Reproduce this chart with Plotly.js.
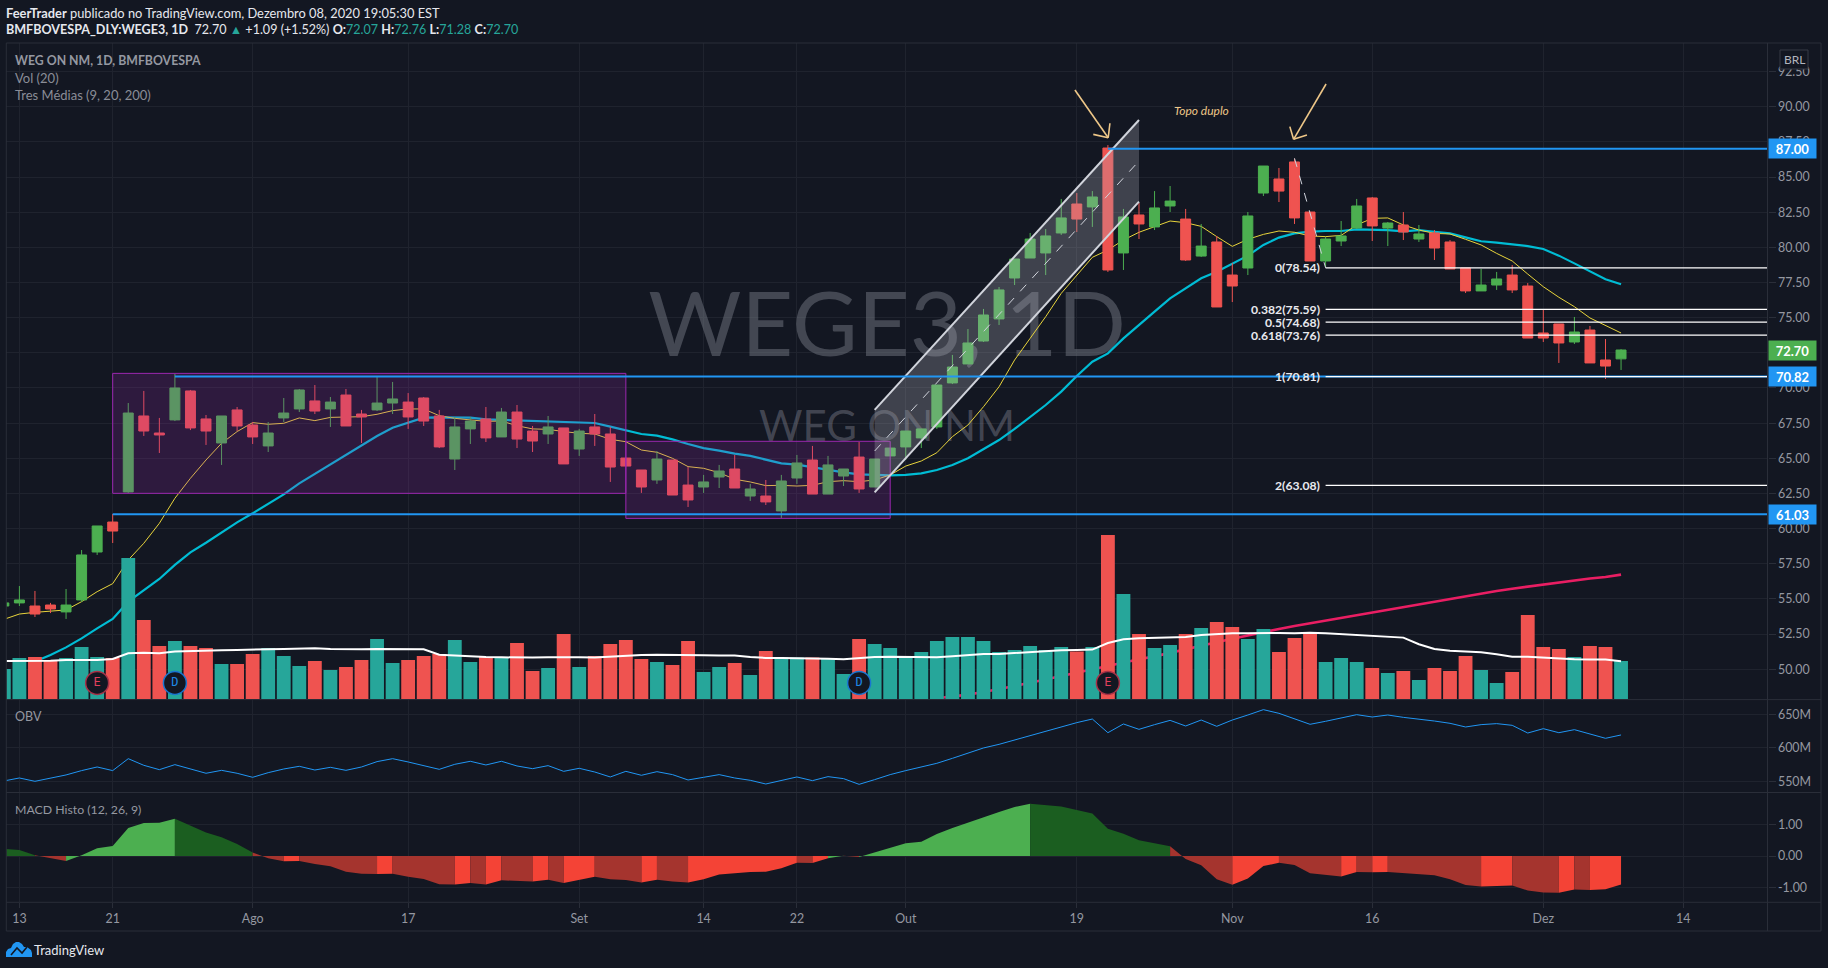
<!DOCTYPE html>
<html lang="pt">
<head>
<meta charset="utf-8">
<title>WEGE3 1D</title>
<script src="https://cdn.plot.ly/plotly-3.0.1.min.js"></script>
<style>html,body{margin:0;padding:0;background:#131722;overflow:hidden}#chart{width:1828px;height:968px}</style>
</head>
<body>
<div id="chart"></div>
<script>
const opens = [54.5,
54.72,54.5,54.57,54.08,54.93,58.34,60.47,62.61,68.01,66.8,
67.73,69.79,67.8,66.09,68.44,67.37,65.88,67.87,68.51,69.08,
68.51,69.5,68.15,68.44,68.93,69.0,69.29,68.01,64.95,67.09,
67.8,66.52,68.29,66.94,66.73,67.16,65.66,67.23,66.73,65.02,
64.17,63.46,64.88,63.1,62.96,63.67,64.24,62.32,62.32,61.26,
63.6,64.88,62.46,63.74,65.09,62.96,65.17,65.81,66.45,67.23,
70.36,71.71,73.34,74.91,77.82,79.24,79.6,81.02,83.08,82.87,
87.06,79.6,82.3,81.45,82.94,82.01,79.38,80.38,78.03,78.53,
83.86,84.86,86.07,82.51,79.03,80.45,81.37,83.51,81.37,81.59,
80.59,81.02,80.38,78.53,76.9,77.32,78.03,77.25,73.91,74.55,
73.27,74.12,71.99,72.07];
const highs = [54.72,
55.92,55.57,54.72,55.71,58.48,60.19,61.04,68.93,69.79,67.87,
71.0,69.86,68.08,68.01,68.65,67.58,67.58,69.29,69.93,70.21,
69.36,69.93,68.44,70.78,70.43,69.64,69.36,68.44,67.94,67.94,
68.65,68.58,68.79,67.3,68.01,67.16,67.09,68.15,67.23,65.02,
64.17,65.52,64.88,64.38,63.82,64.53,65.24,63.18,63.46,63.82,
65.24,65.88,65.17,64.24,66.16,64.95,65.73,66.94,67.09,70.21,
72.35,74.19,75.62,77.18,79.17,81.02,81.3,83.44,83.86,84.0,
87.27,82.73,83.15,84.0,84.36,82.73,81.66,80.81,78.89,82.51,
85.78,85.64,86.3,82.51,80.73,81.87,83.44,83.58,81.8,82.51,
81.59,81.23,80.52,78.53,78.46,78.25,78.74,77.46,75.55,74.55,
75.05,74.41,73.48,72.76];
const lows = [54.5,
54.5,53.72,54.0,53.58,54.79,58.13,58.98,62.54,66.59,65.38,
67.65,67.01,65.95,64.53,66.94,66.02,65.45,67.58,68.29,68.15,
67.23,67.3,66.09,68.36,68.15,67.09,67.3,65.73,64.17,66.02,
66.16,66.52,65.73,65.45,66.02,64.6,65.17,65.88,63.32,64.45,
62.54,63.18,62.39,61.54,62.54,62.89,62.89,61.97,61.68,60.76,
63.18,62.46,62.46,63.03,62.54,62.96,65.17,64.88,65.73,67.09,
70.28,71.71,73.27,74.48,77.32,79.24,78.03,80.88,81.09,81.45,
78.25,78.39,80.59,81.23,82.51,79.03,79.31,75.76,76.11,78.03,
83.65,83.22,81.66,79.03,78.6,80.09,81.3,80.45,80.09,80.52,
80.38,79.1,78.46,76.75,76.9,76.97,76.75,73.55,73.27,71.78,
73.13,71.78,70.64,71.28];
const closes = [54.72,
54.93,53.93,54.29,54.57,58.13,60.19,59.83,68.22,66.94,66.66,
70.0,67.16,66.94,68.01,67.3,66.52,66.8,68.22,69.86,68.36,
69.0,67.3,67.94,68.93,69.22,67.94,67.65,65.81,67.23,67.65,
66.45,68.29,66.37,66.23,67.23,64.6,66.94,66.73,64.38,64.45,
62.96,64.95,62.39,62.04,63.32,64.1,62.89,62.82,61.9,63.39,
64.67,62.46,64.53,64.24,62.82,64.95,65.73,66.94,67.09,70.21,
71.49,73.2,75.19,76.97,79.17,80.59,80.81,82.09,82.01,83.58,
78.39,82.16,81.66,82.8,83.29,79.1,80.09,75.76,77.25,82.23,
85.78,84.0,82.09,79.03,80.59,80.81,82.94,81.52,81.73,81.09,
80.95,79.95,78.46,76.9,77.32,77.75,76.97,73.55,73.55,73.2,
73.98,71.78,71.56,72.7];
const ma9 = [53.55,
53.93,54.05,54.15,54.22,54.81,55.52,56.09,57.77,58.96,60.38,
62.16,63.58,64.88,66.07,66.9,67.54,67.42,67.49,67.87,67.68,
67.91,67.94,67.96,68.13,68.39,68.51,68.51,68.03,67.84,67.73,
67.63,67.65,67.32,67.09,67.06,66.9,66.78,66.73,66.35,66.18,
65.59,65.43,65.0,64.41,64.29,63.98,63.51,63.32,63.06,63.08,
63.03,63.08,63.34,63.41,63.34,63.46,63.82,64.45,64.81,65.4,
66.54,67.37,68.67,70.09,71.99,73.53,75.07,76.73,78.03,79.29,
79.81,80.52,81.07,81.47,81.87,81.75,81.49,80.76,80.07,80.57,
80.92,81.16,81.07,80.81,80.76,80.85,81.59,82.06,82.09,81.59,
81.23,80.99,80.95,80.57,80.17,79.57,79.03,78.1,77.2,76.45,
75.78,74.98,74.43,73.91];
const ma20 = [null,
null,50.55,51.02,51.56,52.2,52.91,53.58,54.81,55.64,56.42,
57.42,58.32,59.0,59.74,60.45,61.09,61.75,62.44,63.22,63.89,
64.57,65.24,65.9,66.59,67.18,67.56,67.89,67.91,67.89,67.89,
67.77,67.73,67.7,67.68,67.63,67.56,67.56,67.51,67.25,67.01,
66.73,66.61,66.35,66.02,65.73,65.55,65.33,65.17,64.88,64.64,
64.55,64.36,64.17,64.0,63.86,63.82,63.79,63.82,63.93,64.17,
64.53,65.0,65.64,66.3,67.09,67.91,68.79,69.74,70.85,71.87,
72.46,73.53,74.45,75.43,76.37,77.09,77.8,78.27,78.82,79.41,
80.17,80.69,80.99,81.11,81.16,81.16,81.28,81.26,81.23,81.14,
81.23,81.11,80.99,80.71,80.43,80.33,80.21,80.09,79.88,79.41,
78.86,78.27,77.73,77.37];
const ma200Tail = [47.94,48.06,48.2,48.39,48.58,48.82,49.05,49.29,49.53,49.76,50.0,50.26,50.47,50.71,50.92,51.16,51.42,51.66,51.92,
52.18,52.42,52.63,52.87,53.08,53.27,53.48,53.67,53.86,54.08,54.27,54.45,54.64,54.83,55.02,55.19,55.38,55.57,55.73,55.88,56.04,56.16,56.3,56.45,56.56,56.73];
const volumes = [3.79,
5.17,5.29,4.79,5.17,6.54,5.29,5.17,17.67,9.92,6.67,
7.29,6.67,6.42,4.42,4.42,5.67,6.42,5.42,4.17,4.79,
3.67,4.04,4.92,7.54,4.54,4.92,5.42,5.67,7.42,4.67,
5.29,5.29,7.04,3.54,3.92,8.17,4.04,5.42,6.92,7.42,
5.04,4.67,4.29,7.29,3.42,4.04,4.54,3.04,6.04,5.21,
5.21,5.21,5.04,3.17,7.54,6.92,6.42,5.29,5.92,7.29,
7.79,7.79,7.29,5.92,6.17,6.67,6.17,6.54,5.96,6.54,
20.54,13.17,8.17,6.42,6.79,8.17,8.92,9.67,9.04,7.54,
8.79,5.92,7.67,8.37,4.67,5.17,4.67,3.92,3.29,3.54,
2.42,3.92,3.54,5.42,3.67,2.04,3.42,10.54,6.54,6.29,
5.29,6.67,6.54,4.79];
const volumeMA = [4.79,
4.79,4.79,4.83,4.92,4.88,4.92,5.04,5.75,5.83,5.75,
5.96,6.04,6.13,6.13,6.17,6.17,6.25,6.29,6.33,6.38,
6.29,6.25,6.25,6.29,6.25,6.25,6.25,5.58,5.46,5.42,
5.29,5.25,5.21,5.21,5.25,5.29,5.25,5.21,5.33,5.46,
5.54,5.58,5.58,5.58,5.5,5.46,5.46,5.29,5.17,5.17,
5.17,5.17,5.08,5.0,5.17,5.29,5.33,5.29,5.25,5.25,
5.38,5.54,5.67,5.67,5.79,5.92,6.04,6.13,6.17,6.21,
7.04,7.5,7.63,7.71,7.71,7.79,8.04,8.17,8.25,8.25,
8.29,8.29,8.25,8.33,8.25,8.13,8.04,7.92,7.79,7.71,
6.88,6.29,6.08,6.0,5.88,5.63,5.33,5.33,5.21,5.13,
5.0,4.96,4.96,4.75];
const obv = [550.5,
555,550,554.5,559.5,566,571.4,566,583.8,573.9,567.4,
574.9,568.4,562,566.4,562,556,562.9,568.4,572.4,566.9,
570.9,566.4,571.4,579.4,583.8,578.9,573.4,567.9,575.4,579.9,
574.4,579.9,572.9,568.9,573.4,564.9,569.4,563.9,556.5,564.9,
559,564.4,560,552,556,560,555,551.5,546,551.5,
556.5,551,557,554,545.5,552.5,560,566,570.9,576.9,
584.3,592.3,599.8,605.2,611.7,618.7,624.6,632.1,637.6,643,
622.6,635.6,627.6,634.6,641,632.6,641.5,632.1,641.5,649,
657,651.5,643.5,635.1,639.6,644.5,649.5,646,649,645.5,
643,640,636.6,631.1,634.6,636.1,633.6,622.1,628.6,622.6,
627.1,620.6,614.2,619.2];
const macdHist = [0.23,
0.19,0.03,-0.06,-0.15,0.03,0.25,0.32,0.88,1.04,1.05,
1.17,0.95,0.74,0.59,0.38,0.11,-0.07,-0.16,-0.15,-0.25,
-0.32,-0.49,-0.55,-0.56,-0.55,-0.65,-0.72,-0.88,-0.89,-0.84,
-0.89,-0.76,-0.79,-0.8,-0.74,-0.84,-0.74,-0.65,-0.73,-0.75,
-0.83,-0.74,-0.8,-0.83,-0.73,-0.58,-0.54,-0.5,-0.49,-0.38,
-0.21,-0.22,-0.07,0.01,-0.03,0.11,0.27,0.4,0.45,0.69,
0.88,1.05,1.23,1.38,1.54,1.64,1.6,1.56,1.45,1.34,
0.86,0.7,0.5,0.4,0.31,-0.09,-0.29,-0.73,-0.9,-0.7,
-0.31,-0.21,-0.28,-0.54,-0.6,-0.64,-0.5,-0.51,-0.5,-0.54,
-0.56,-0.6,-0.73,-0.91,-0.95,-0.93,-0.92,-1.08,-1.14,-1.15,
-1.05,-1.06,-1.04,-0.89];

const timeTickBars = [0,6,15,25,36,44,50,57,68,78,87,98,107];
const timeTickLabels = ['13','21','Ago','17','Set','14','22','Out','19','Nov','16','Dez','14'];
const earningsBars = [5,10,54,70];
const earningsKinds = ['E','D','D','E'];
const fibRatios = ['0','0.382','0.5','0.618','1','2'];
const fibPrices = [78.54,75.59,74.68,73.76,70.81,63.08];
const levelPrices = [87.0,70.82,61.03];
const levelStartBars = [70,10,6];
const watermarks = ['WEGE3, 1D','WEG ON NM'];

const W = 1828, H = 968;
const FONT = 'Lato, "Noto Sans", sans-serif';
const BG = '#131722', GRID = '#1f232e', BORDER = '#2a2e39', TICK = '#9598a1';
const BLUE = '#2196f3', GREEN = '#4caf50', RED = '#ef5350', SAND = '#eec788';
const xLeft = 6.3, xRight = 1767.5, bar0 = 19.4, barStep = 15.55;
const paneMain = [43, 699.3], paneObv = [700, 792.3], paneMacd = [793, 902];
const dom = p => [1 - p[1] / H, 1 - p[0] / H];
const xRange = [(xLeft - bar0) / barStep, (xRight - bar0) / barStep];
const priceRange = [90 - (paneMain[1] - 106.67) / 14.066, 90 - (paneMain[0] - 106.67) / 14.066];
const xi = opens.map((_, i) => i - 1);
const px = x => x / W, py = y => 1 - y / H;

/* ---------- traces ---------- */
const traces = [];
const wmY = [73.85, 66.95], wmSize = [90, 42], wmX = [55.8, 55.8];
watermarks.forEach((t, k) => traces.push({
  type: 'scatter', mode: 'text', x: [wmX[k]], y: [wmY[k]], text: [t], textposition: 'middle center',
  textfont: {family: FONT, size: wmSize[k], color: 'rgba(125,128,140,0.46)'},
  xaxis: 'x', yaxis: 'y', hoverinfo: 'skip', showlegend: false
}));
const line = (x, y, color, width, ya) => ({
  type: 'scatter', mode: 'lines', x, y, line: {color, width}, xaxis: 'x', yaxis: ya,
  hoverinfo: 'skip', showlegend: false, connectgaps: false
});
traces.push(line(xi.slice(60), ma200Tail, '#e91e63', 2.6, 'y'));
traces.push(line(xi, ma20, '#00bcd4', 2.2, 'y'));
traces.push(line(xi, ma9, '#e8d43c', 1, 'y'));
traces.push({
  type: 'bar', x: xi, y: volumes, width: 0.89,
  marker: {color: xi.map((_, i) => closes[i] >= opens[i] ? '#26a69a' : RED), line: {width: 0}},
  xaxis: 'x', yaxis: 'y2', hoverinfo: 'skip', showlegend: false
});
traces.push(line(xi, volumeMA, '#ffffff', 2, 'y2'));
traces.push({
  type: 'candlestick', x: xi, open: opens, high: highs, low: lows, close: closes,
  increasing: {line: {color: GREEN, width: 1}, fillcolor: GREEN},
  decreasing: {line: {color: RED, width: 1}, fillcolor: RED},
  whiskerwidth: 0, xaxis: 'x', yaxis: 'y3', hoverinfo: 'skip', showlegend: false
});
traces.push({
  type: 'scatter', mode: 'markers+text', x: earningsBars, y: earningsBars.map(() => 49.03),
  text: earningsKinds, textposition: 'middle center',
  textfont: {family: '"DejaVu Sans Mono", monospace', size: 12, color: earningsKinds.map(k => k === 'E' ? '#e0405c' : '#1e88e5')},
  marker: {size: 23, color: BG, line: {width: 1.5, color: earningsKinds.map(k => k === 'E' ? '#a83248' : '#1976d2')}},
  xaxis: 'x', yaxis: 'y3', hoverinfo: 'skip', showlegend: false, cliponaxis: false
});
traces.push(line(xi, obv, BLUE, 1, 'y4'));

/* MACD histogram in area style, one coloured run per direction change */
const macdColor = i => {
  const up = macdHist[i] > macdHist[i - 1], pos = macdHist[i] >= 0;
  return pos ? (up ? GREEN : '#1b5e20') : (up ? '#f44336' : '#a5342e');
};
let runStart = 0;
for (let i = 1; i < macdHist.length; i++) {
  const next = i + 1 < macdHist.length ? macdColor(i + 1) : null;
  if (macdColor(i) !== next) {
    traces.push({
      type: 'scatter', mode: 'lines', x: xi.slice(runStart, i + 1), y: macdHist.slice(runStart, i + 1),
      fill: 'tozeroy', fillcolor: macdColor(i), line: {width: 0, color: macdColor(i)},
      xaxis: 'x', yaxis: 'y5', hoverinfo: 'skip', showlegend: false
    });
    runStart = i;
  }
}

/* ---------- drawings ---------- */
const shapes = [];
const seg = (x0, y0, x1, y1, color, width, dash) => shapes.push({
  type: 'line', xref: 'x', yref: 'y', x0, y0, x1, y1, line: {color, width, dash: dash || 'solid'}
});
const pxLine = (x0, y0, x1, y1, color, width) => shapes.push({
  type: 'line', xref: 'paper', yref: 'paper', x0: px(x0), y0: py(y0), x1: px(x1), y1: py(y1), line: {color, width}
});
const box = (x0, x1, y0, y1) => shapes.push({
  type: 'rect', xref: 'x', yref: 'y', x0, x1, y0, y1,
  line: {color: '#9c27b0', width: 1}, fillcolor: 'rgba(156,39,176,0.2)'
});
box(6, 39, 62.51, 71.04);
box(39, 56, 60.73, 66.21);
shapes.push({
  type: 'path', xref: 'x', yref: 'y',
  path: 'M55,68.44 L72,89.05 L72,83.25 L55,62.58 Z',
  fillcolor: 'rgba(178,181,190,0.28)', line: {width: 0}
});
seg(55, 68.44, 72, 89.05, '#d1d4dc', 2);
seg(55, 62.58, 72, 83.25, '#d1d4dc', 2);
seg(55, 65.52, 72, 86.14, '#d1d4dc', 1, 'dash');
seg(82, 86.33, 84, 78.54, '#d1d4dc', 1, 'dash');
levelPrices.forEach((p, k) => seg(levelStartBars[k], p, xRange[1], p, BLUE, 2));
fibPrices.forEach(p => seg(84, p, xRange[1], p, '#ffffff', 1.3));
/* hand drawn arrows */
seg(67.88, 91.19, 70.02, 87.79, SAND, 1.6);
seg(69.06, 88.03, 70.02, 87.79, SAND, 1.6);
seg(70.13, 88.82, 70.02, 87.79, SAND, 1.6);
seg(84.03, 91.61, 81.94, 87.68, SAND, 1.6);
seg(81.7, 88.58, 81.94, 87.68, SAND, 1.6);
seg(82.8, 87.99, 81.94, 87.68, SAND, 1.6);
/* frame */
pxLine(xLeft, 43, 1821, 43, BORDER, 1);
pxLine(xLeft, 43, xLeft, 931, BORDER, 1);
pxLine(1821, 43, 1821, 931, BORDER, 1);
pxLine(xLeft, 931, 1821, 931, BORDER, 1);
pxLine(xRight, 43, xRight, 931, BORDER, 1);
pxLine(xLeft, 699.6, 1821, 699.6, BORDER, 1);
pxLine(xLeft, 792.5, 1821, 792.5, BORDER, 1);
pxLine(xLeft, 902.3, 1821, 902.3, BORDER, 1);
/* logo */
const pts = a => a.map((p, i) => (i ? 'L' : 'M') + px(p[0]).toFixed(5) + ',' + py(p[1]).toFixed(5)).join(' ');
shapes.push({
  type: 'path', xref: 'paper', yref: 'paper', fillcolor: BLUE, line: {width: 0},
  path: pts([[6,957],[6,952],[8,949],[11,948],[13,944],[16,942],[19,942],[22,944],[24,947],[27,947],[31,950],[32,953],[32,957]]) + ' Z'
});
shapes.push({
  type: 'path', xref: 'paper', yref: 'paper', line: {color: BG, width: 1.6},
  path: pts([[11,955],[17,948],[22,953],[27,947]])
});
/* BRL button */
shapes.push({
  type: 'rect', xref: 'paper', yref: 'paper', x0: px(1780), x1: px(1808), y0: py(69), y1: py(50),
  fillcolor: BG, line: {color: '#363a45', width: 1}
});

/* ---------- text ---------- */
const annotations = [];
const pxText = (x, y, text, color, size, opts) => annotations.push(Object.assign({
  xref: 'paper', yref: 'paper', x: px(x), y: py(y), text, xanchor: 'left', yanchor: 'middle', showarrow: false,
  align: 'left', font: {family: FONT, size, color}
}, opts || {}));
const C = (c, t) => `<span style="color:${c}">${t}</span>`;
pxText(4, 12.5, '<b>FeerTrader</b> publicado no TradingView.com, Dezembro 08, 2020 19:05:30 EST', '#e6e8ee', 12.85);
const TEAL = '#26a69a';
pxText(4, 30, `<b>BMFBOVESPA_DLY:WEGE3, 1D</b>  72.70 ${C(TEAL, '▲')} +1.09 (+1.52%) <b>O:</b>${C(TEAL, '72.07')} <b>H:</b>${C(TEAL, '72.76')} <b>L:</b>${C(TEAL, '71.28')} <b>C:</b>${C(TEAL, '72.70')}`, '#e6e8ee', 12.55);
pxText(13, 60, '<b>WEG ON NM, 1D, BMFBOVESPA</b>', '#9598a1', 12.3);
pxText(13, 77.5, 'Vol (20)', '#8a8d97', 13);
pxText(13, 94.5, 'Tres Médias (9, 20, 200)', '#8a8d97', 13);
pxText(13, 716.5, 'OBV', '#9598a1', 12.5);
pxText(13, 809.5, 'MACD Histo (12, 26, 9)', '#9598a1', 12.3);
pxText(32, 950, 'TradingView', '#e6e8ee', 13);
pxText(1794, 59.5, 'BRL', '#b2b5be', 12, {xanchor: 'center'});
pxText(1201, 110, '<i>Topo duplo</i>', SAND, 12, {xanchor: 'center'});
fibRatios.forEach((r, k) => annotations.push({
  xref: 'x', yref: 'y', x: 83.8, y: fibPrices[k], text: `<b>${r}(${fibPrices[k].toFixed(2)})</b>`,
  xanchor: 'right', yanchor: 'middle', showarrow: false, font: {family: FONT, size: 12.2, color: '#e8e9ee'}
}));
const badge = (p, bg) => annotations.push({
  xref: 'paper', yref: 'y', x: px(xRight), y: p, text: '<b>' + p.toFixed(2) + '</b>', xanchor: 'left', yanchor: 'middle',
  showarrow: false, width: 47, height: 19, bgcolor: bg, borderpad: 0, align: 'center', valign: 'middle',
  font: {family: FONT, size: 13, color: '#ffffff'}
});
badge(levelPrices[0], BLUE);
badge(closes[closes.length - 1], GREEN);
badge(levelPrices[1], BLUE);
badge(levelPrices[2], BLUE);

/* ---------- layout ---------- */
const tickfont = {family: FONT, size: 12.4, color: TICK};
const valueAxis = extra => Object.assign({
  side: 'right', anchor: 'x', showgrid: true, gridcolor: GRID, gridwidth: 1, zeroline: false, showline: false,
  ticks: 'outside', ticklen: 7, tickcolor: BORDER, tickfont, tickmode: 'array', fixedrange: true
}, extra);
const hiddenAxis = extra => Object.assign({
  overlaying: 'y', anchor: 'x', domain: dom(paneMain), visible: false, showgrid: false, zeroline: false, fixedrange: true
}, extra);
const priceTicks = [];
for (let v = 50; v <= 92.5; v += 2.5) priceTicks.push(v);
const layout = {
  width: W, height: H, margin: {l: 0, r: 0, t: 0, b: 0, pad: 0},
  paper_bgcolor: BG, plot_bgcolor: BG, showlegend: false, hovermode: false, dragmode: false,
  barmode: 'overlay', boxmode: 'overlay', boxgap: 0.2, boxgroupgap: 0.2,
  xaxis: {
    domain: [xLeft / W, xRight / W], range: xRange, anchor: 'y5', type: 'linear', tickmode: 'array',
    tickvals: timeTickBars, ticktext: timeTickLabels, showgrid: true, gridcolor: GRID, zeroline: false, showline: false,
    ticks: 'outside', ticklen: 5, tickcolor: BORDER, tickfont, fixedrange: true, rangeslider: {visible: false}
  },
  yaxis: valueAxis({domain: dom(paneMain), range: priceRange, tickvals: priceTicks, ticktext: priceTicks.map(v => v.toFixed(2))}),
  yaxis2: hiddenAxis({range: [0, 82.04]}),
  yaxis3: hiddenAxis({range: priceRange}),
  yaxis4: valueAxis({domain: dom(paneObv), range: [533.6, 671.4], tickvals: [550, 600, 650], ticktext: ['550M', '600M', '650M']}),
  yaxis5: valueAxis({domain: dom(paneMacd), range: [-1.44, 1.98], tickvals: [-1, 0, 1], ticktext: ['-1.00', '0.00', '1.00']}),
  shapes, annotations
};
Plotly.newPlot('chart', traces, layout, {displayModeBar: false, staticPlot: true, responsive: false});
</script>
</body>
</html>
